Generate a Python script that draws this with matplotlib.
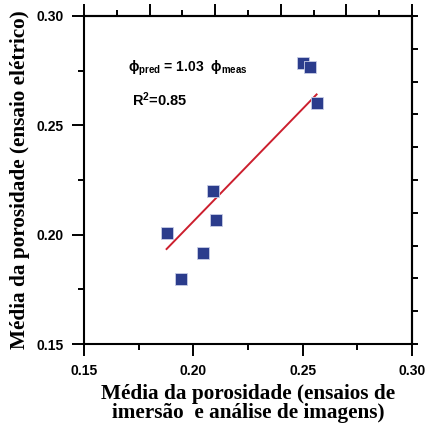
import numpy as np
import matplotlib.pyplot as plt
from matplotlib.ticker import MultipleLocator, NullFormatter

# porosidade medida (imersão + imagens) vs. ensaio elétrico
phi_meas = [0.2503, 0.2534, 0.2564, 0.2089, 0.1878, 0.2104, 0.2046, 0.1942]
phi_elec = [0.2784, 0.2768, 0.2604, 0.2200, 0.2009, 0.2067, 0.1918, 0.1799]
slope = 1.03
r2 = 0.85

plt.rcParams['mathtext.fontset'] = 'custom'
plt.rcParams['mathtext.rm'] = 'Liberation Sans:bold'
plt.rcParams['mathtext.bf'] = 'Liberation Sans:bold'
plt.rcParams['mathtext.it'] = 'Liberation Sans:bold'

fig = plt.figure(figsize=(4.26, 4.29), dpi=100)
ax = fig.add_axes([0.197, 0.198, 0.770, 0.765])

x_fit = np.array([min(phi_meas), max(phi_meas)])
ax.plot(x_fit, slope * x_fit, color='#cc1f2e', lw=1.4, zorder=2)
ax.scatter(phi_meas, phi_elec, marker='s', s=68, color='#2b3c8c',
           edgecolors='#c8cde6', linewidths=0.6, zorder=3)

ax.set_xlim(0.15, 0.30)
ax.set_ylim(0.15, 0.30)
ax.xaxis.set_major_locator(MultipleLocator(0.05))
ax.xaxis.set_minor_locator(MultipleLocator(0.025))
ax.yaxis.set_major_locator(MultipleLocator(0.05))
ax.yaxis.set_minor_locator(MultipleLocator(0.025))
ax.xaxis.set_major_formatter(plt.FormatStrFormatter('%.2f'))
ax.yaxis.set_major_formatter(plt.FormatStrFormatter('%.2f'))
ax.tick_params(which='major', direction='out', length=8.5, width=1.4,
               labelsize=10, pad=6)
ax.tick_params(which='minor', direction='out', length=4, width=1.4)
for lab in ax.get_xticklabels() + ax.get_yticklabels():
    lab.set_fontfamily('Liberation Sans')
    lab.set_fontweight('bold')
for sp in ax.spines.values():
    sp.set_linewidth(1.5)

top = ax.secondary_xaxis('top')
top.xaxis.set_major_locator(MultipleLocator(0.03))
top.xaxis.set_minor_locator(MultipleLocator(0.015))
top.xaxis.set_major_formatter(NullFormatter())
top.tick_params(which='major', direction='out', length=8.5, width=1.4)
top.tick_params(which='minor', direction='out', length=4.5, width=1.4)
top.spines['top'].set_linewidth(1.5)

right = ax.secondary_yaxis('right')
right.yaxis.set_major_locator(MultipleLocator(0.015))
right.yaxis.set_major_formatter(NullFormatter())
right.tick_params(which='major', direction='out', length=4.5, width=1.4)
right.spines['right'].set_linewidth(1.5)

ax.text(0.170, 0.2762, r'$\mathrm{ϕ}_{\mathrm{pred}}$ = 1.03  $\mathrm{ϕ}_{\mathrm{meas}}$',
        fontsize=10, fontweight='bold', family='Liberation Sans', va='center')
ax.text(0.1722, 0.2616, r'R$^{2}$=0.85', fontsize=10.5,
        fontweight='bold', family='Liberation Sans', va='center')

lbl = dict(family='Liberation Serif', fontweight='bold', fontsize=15.3)
ax.set_xlabel('Média da porosidade (ensaios de\nimersão  e análise de imagens)',
              labelpad=4, linespacing=0.95, **lbl)
ax.set_ylabel('Média da porosidade (ensaio elétrico)', labelpad=5, **lbl)

plt.savefig('out.png', dpi=100)
